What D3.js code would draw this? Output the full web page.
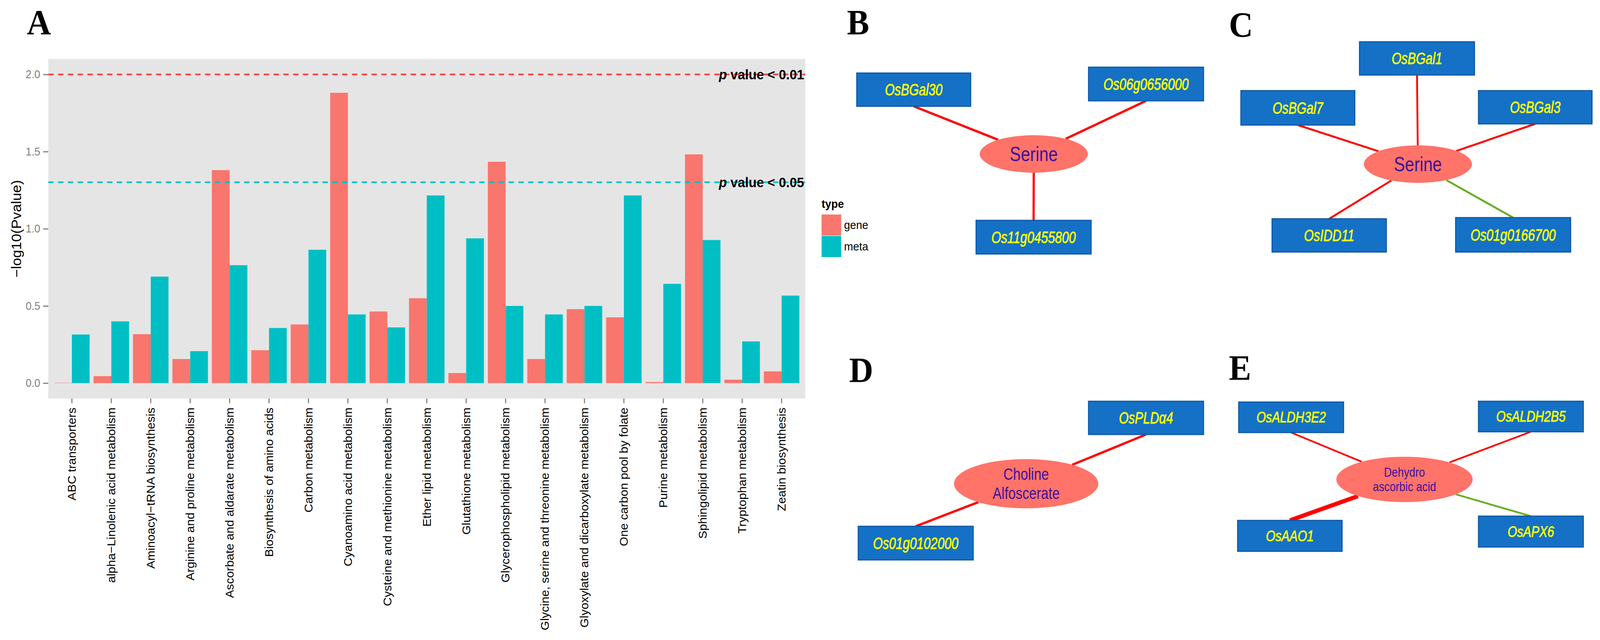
<!DOCTYPE html>
<html>
<head>
<meta charset="utf-8">
<script src="https://cdn.jsdelivr.net/npm/d3@7"></script>
<style>
  html, body { margin: 0; padding: 0; background: #fff; overflow: hidden; }
  #chart { width: 100vw; height: 100vh; }
  svg { display: block; }
</style>
</head>
<body>
<div id="chart"></div>
<script>
// ---- panel A data ----
const categories = [
  "ABC transporters", "alpha\u2212Linolenic acid metabolism", "Aminoacyl\u2212tRNA biosynthesis",
  "Arginine and proline metabolism", "Ascorbate and aldarate metabolism", "Biosynthesis of amino acids",
  "Carbon metabolism", "Cyanoamino acid metabolism", "Cysteine and methionine metabolism",
  "Ether lipid metabolism", "Glutathione metabolism", "Glycerophospholipid metabolism",
  "Glycine, serine and threonine metabolism", "Glyoxylate and dicarboxylate metabolism",
  "One carbon pool by folate", "Purine metabolism", "Sphingolipid metabolism",
  "Tryptophan metabolism", "Zeatin biosynthesis"
];
const geneValues = [0.002, 0.045, 0.317, 0.156, 1.38, 0.213, 0.38, 1.881, 0.464, 0.55,
                    0.065, 1.434, 0.156, 0.479, 0.426, 0.007, 1.482, 0.022, 0.076];
const metaValues = [0.315, 0.40, 0.69, 0.207, 0.764, 0.357, 0.864, 0.445, 0.361, 1.216,
                    0.938, 0.50, 0.445, 0.50, 1.216, 0.643, 0.927, 0.27, 0.567];
const seriesNames = ["gene", "meta"];
const yTicks = [0, 0.5, 1, 1.5, 2];
const thresholdValues = [2, 1.301];
const thresholdLabels = ["0.01", "0.05"];

// ---- network data (B-E) ----
const bCenter = ["Serine"];
const bGenes = ["OsBGal30", "Os06g0656000", "Os11g0455800"];
const bSigns = ["pos", "pos", "pos"];
const bWeights = [1, 1, 1];

const cCenter = ["Serine"];
const cGenes = ["OsBGal1", "OsBGal7", "OsBGal3", "OsIDD11", "Os01g0166700"];
const cSigns = ["pos", "pos", "pos", "pos", "neg"];
const cWeights = [1, 1, 1, 1, 1];

const dCenter = ["Choline", "Alfoscerate"];
const dGenes = ["OsPLD\u03b14", "Os01g0102000"];
const dSigns = ["pos", "pos"];
const dWeights = [1, 1];

const eCenter = ["Dehydro", "ascorbic acid"];
const eGenes = ["OsALDH3E2", "OsALDH2B5", "OsAAO1", "OsAPX6"];
const eSigns = ["pos", "pos", "pos", "neg"];
const eWeights = [1, 1, 2.4, 1];

// ---- layout ----
const W = 4411, H = 1638;
const plot = { left: 133, right: 2220, top: 151, bottom: 1020 };
const colors = { gene: "#F8766D", meta: "#00BFC4" };
const sans = "Liberation Sans, Arial, sans-serif";
const serif = "Liberation Serif, Times New Roman, serif";

// stretch the figure over the whole window
const svg = d3.select("#chart").append("svg")
  .attr("viewBox", `0 0 ${W} ${H}`)
  .attr("preserveAspectRatio", "none")
  .attr("width", "100%").attr("height", "100%");

// panel letters
const letters = [
  { t: "A", x: 74, y: 88 }, { t: "B", x: 2335, y: 88 }, { t: "C", x: 3388, y: 94 },
  { t: "D", x: 2341, y: 978 }, { t: "E", x: 3388, y: 972 }
];
svg.selectAll("text.letter").data(letters).enter().append("text")
  .attr("class", "letter")
  .attr("x", d => d.x).attr("y", d => d.y)
  .style("font-family", serif).style("font-weight", "bold").style("font-size", "92px")
  .text(d => d.t);

// ---- Panel A: grouped bars ----
const x = d3.scaleBand().domain(categories)
  .range([plot.left, plot.right]).paddingInner(0.1).paddingOuter(0.15);
const x1 = d3.scaleBand().domain(seriesNames).range([0, x.bandwidth()]);
const y = d3.scaleLinear().domain([-0.1, 2.1]).range([plot.bottom, plot.top]);

svg.append("rect")
  .attr("x", plot.left).attr("y", plot.top)
  .attr("width", plot.right - plot.left).attr("height", plot.bottom - plot.top)
  .attr("fill", "#E5E5E5");

const rows = categories.map((c, i) => ({ cat: c, gene: geneValues[i], meta: metaValues[i] }));
const groups = svg.append("g").selectAll("g").data(rows).enter().append("g")
  .attr("transform", d => `translate(${x(d.cat)},0)`);
groups.selectAll("rect").data(d => seriesNames.map(s => ({ s, v: d[s] }))).enter().append("rect")
  .attr("x", d => x1(d.s)).attr("width", x1.bandwidth())
  .attr("y", d => y(d.v)).attr("height", d => y(0) - y(d.v))
  .attr("fill", d => colors[d.s]);

// threshold lines
const thrColors = ["#FF3B3B", "#00BFC4"];
thresholdValues.forEach((v, i) => {
  svg.append("line")
    .attr("x1", plot.left).attr("x2", plot.right)
    .attr("y1", y(v)).attr("y2", y(v))
    .attr("stroke", thrColors[i]).attr("stroke-width", 4)
    .attr("stroke-dasharray", "15 12");
  const t = svg.append("text")
    .attr("x", plot.right - 3).attr("y", y(v))
    .attr("text-anchor", "end").attr("dominant-baseline", "central")
    .style("font-family", sans).style("font-weight", "bold").style("font-size", "36px");
  t.append("tspan").style("font-style", "italic").text("p");
  t.append("tspan").text(" value < " + thresholdLabels[i]);
});

// y axis
const yAxis = svg.append("g")
  .attr("transform", `translate(${plot.left},0)`)
  .call(d3.axisLeft(y).tickValues(yTicks).tickFormat(d3.format(".1f")).tickSize(14).tickPadding(8));
yAxis.select(".domain").remove();
yAxis.selectAll("line").attr("stroke", "#7F7F7F").attr("stroke-width", 3);
yAxis.selectAll("text").attr("fill", "#7F7F7F").style("font-family", sans).style("font-size", "29px");

// x axis
const xAxis = svg.append("g")
  .attr("transform", `translate(0,${plot.bottom})`)
  .call(d3.axisBottom(x).tickSize(12).tickPadding(10));
xAxis.select(".domain").remove();
xAxis.selectAll("line").attr("stroke", "#7F7F7F").attr("stroke-width", 3);
xAxis.selectAll("text")
  .attr("fill", "#000").style("font-family", sans).style("font-size", "31px")
  .attr("text-anchor", "end").attr("dy", null)
  .attr("dominant-baseline", "central")
  .attr("transform", "translate(0,23) rotate(-90)")
  .attr("x", 0).attr("y", 0);

// y label
svg.append("text")
  .attr("transform", `translate(46,${(plot.top + plot.bottom) / 2}) rotate(-90)`)
  .attr("text-anchor", "middle").attr("dominant-baseline", "central")
  .style("font-family", sans).style("font-size", "37px")
  .text("\u2212log10(Pvalue)");

// legend
const leg = svg.append("g").attr("transform", "translate(2265,0)");
leg.append("text").attr("x", 0).attr("y", 532)
  .style("font-family", sans).style("font-weight", "bold").style("font-size", "30px").text("type");
seriesNames.forEach((s, i) => {
  leg.append("rect").attr("x", 0).attr("y", 549 + i * 55).attr("width", 54).attr("height", 54)
    .attr("fill", colors[s]);
  leg.append("text").attr("x", 62).attr("y", 576 + i * 55).attr("dominant-baseline", "central")
    .style("font-family", sans).style("font-size", "30px").text(s);
});

// ---- networks ----
function drawNetwork(cfg, centerLines, genes, signs, weights) {
  const g = svg.append("g");
  const c = cfg.ellipse;
  // edges first, from box edge to the ellipse rim
  genes.forEach((name, i) => {
    const b = cfg.boxes[i];
    const ax = b.cx, ay = b.cy < c.cy ? b.cy + b.h / 2 : b.cy - b.h / 2;
    const dx = ax - c.cx, dy = ay - c.cy;
    const t = 1 / Math.sqrt((dx / c.rx) ** 2 + (dy / c.ry) ** 2);
    g.append("line")
      .attr("x1", ax).attr("y1", ay)
      .attr("x2", c.cx + dx * t).attr("y2", c.cy + dy * t)
      .attr("stroke", signs[i] === "pos" ? "#FF0000" : "#66AE22")
      .attr("stroke-width", cfg.edgeWidth * weights[i]);
  });
  // boxes
  genes.forEach((name, i) => {
    const b = cfg.boxes[i];
    g.append("rect")
      .attr("x", b.cx - b.w / 2).attr("y", b.cy - b.h / 2)
      .attr("width", b.w).attr("height", b.h)
      .attr("fill", "#1571C6").attr("stroke", "#0E58A6").attr("stroke-width", 3);
    g.append("text")
      .attr("transform", `translate(${b.cx},${b.cy}) scale(${cfg.squeeze},1)`)
      .attr("text-anchor", "middle").attr("dominant-baseline", "central")
      .attr("fill", "#FFFF00").attr("stroke", "#FFFF00").attr("stroke-width", 1)
      .style("font-family", sans).style("font-style", "italic").style("font-size", cfg.boxFont + "px")
      .text(name);
  });
  // center node
  g.append("ellipse")
    .attr("cx", c.cx).attr("cy", c.cy).attr("rx", c.rx).attr("ry", c.ry)
    .attr("fill", "#FF7369");
  centerLines.forEach((line, j) => {
    const off = (j - (centerLines.length - 1) / 2) * cfg.lineGap;
    g.append("text")
      .attr("transform", `translate(${c.cx},${c.cy + off}) scale(0.88,1)`)
      .attr("text-anchor", "middle").attr("dominant-baseline", "central")
      .attr("fill", "#3E109E")
      .style("font-family", sans).style("font-size", cfg.centerFont + "px")
      .text(line);
  });
}

drawNetwork({
  ellipse: { cx: 2850, cy: 394, rx: 149, ry: 48 },
  boxes: [
    { cx: 2519, cy: 229.5, w: 314, h: 85 },
    { cx: 3159.5, cy: 215, w: 317, h: 86 },
    { cx: 2849.5, cy: 607, w: 317, h: 86 }
  ],
  edgeWidth: 6, boxFont: 43, squeeze: 0.8, centerFont: 52, lineGap: 0
}, bCenter, bGenes, bSigns, bWeights);

drawNetwork({
  ellipse: { cx: 3909, cy: 420, rx: 149, ry: 48 },
  boxes: [
    { cx: 3906.5, cy: 149.5, w: 317, h: 85 },
    { cx: 3578, cy: 276, w: 314, h: 88 },
    { cx: 4232.5, cy: 274.5, w: 313, h: 85 },
    { cx: 3664.5, cy: 602.5, w: 315, h: 85 },
    { cx: 4171.5, cy: 601, w: 317, h: 88 }
  ],
  edgeWidth: 5, boxFont: 43, squeeze: 0.8, centerFont: 52, lineGap: 0
}, cCenter, cGenes, cSigns, cWeights);

drawNetwork({
  ellipse: { cx: 2829, cy: 1238, rx: 199, ry: 63 },
  boxes: [
    { cx: 3159.5, cy: 1069.5, w: 317, h: 85 },
    { cx: 2524.5, cy: 1390, w: 317, h: 86 }
  ],
  edgeWidth: 6, boxFont: 43, squeeze: 0.8, centerFont: 42, lineGap: 49
}, dCenter, dGenes, dSigns, dWeights);

drawNetwork({
  ellipse: { cx: 3872, cy: 1227, rx: 188, ry: 58 },
  boxes: [
    { cx: 3559.5, cy: 1068, w: 289, h: 78 },
    { cx: 4220.5, cy: 1066, w: 289, h: 78 },
    { cx: 3556, cy: 1371.5, w: 288, h: 79 },
    { cx: 4220.5, cy: 1360.5, w: 289, h: 79 }
  ],
  edgeWidth: 4.5, boxFont: 38, squeeze: 0.88, centerFont: 34, lineGap: 37
}, eCenter, eGenes, eSigns, eWeights);
</script>
</body>
</html>
